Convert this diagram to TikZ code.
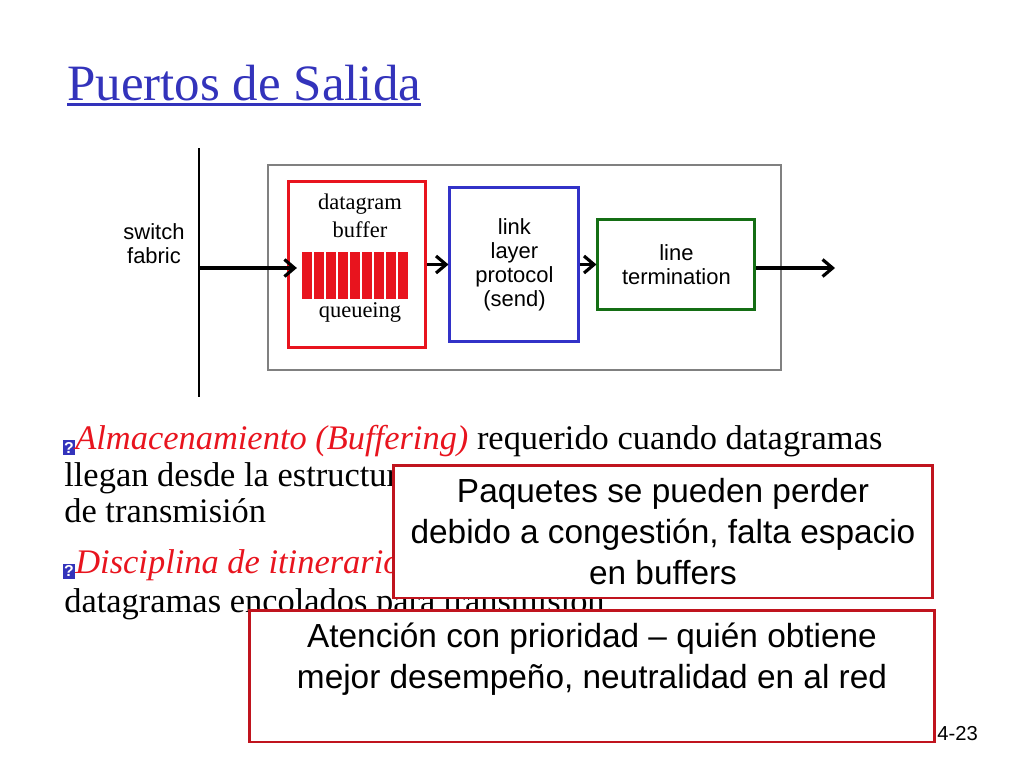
\documentclass[tikz,border=0pt]{standalone}
\usepackage{fontspec}
\setmainfont{Liberation Serif}
\setsansfont{Liberation Sans}
\usepackage{xcolor}
\usetikzlibrary{positioning,arrows.meta}
\definecolor{titleblue}{RGB}{51,51,187}
\definecolor{queuered}{RGB}{232,20,30}
\definecolor{linkblue}{RGB}{50,50,200}
\definecolor{termgreen}{RGB}{20,110,20}
\definecolor{noteborder}{RGB}{192,20,30}
\definecolor{framegray}{RGB}{128,128,128}

\begin{document}
\begin{tikzpicture}[
    x=0.02cm, y=-0.02cm,
    stage/.style={rectangle, draw, line width=1.7pt, align=center, font=\sffamily\fontsize{12.5}{13.6}\selectfont},
    arrow/.style={-{Straight Barb[length=2mm,width=3.4mm]}, line width=1.8pt},
    note/.style={rectangle, draw=noteborder, line width=1.7pt, fill=white, align=center, font=\sffamily\fontsize{19}{23.2}\selectfont},
    body/.style={anchor=base west, inner sep=0pt, font=\fontsize{19.6}{20.7}\selectfont},
    bulletbox/.style={fill=titleblue, text=white, inner sep=0pt, minimum width=0.24cm, minimum height=0.3cm, font=\sffamily\bfseries\fontsize{9}{9}\selectfont}
]
    \useasboundingbox (0,0) rectangle (1024,768);

    % Title
    \node[anchor=base west, inner sep=0pt, text=titleblue, font=\fontsize{29}{34}\selectfont] (title) at (67,100) {Puertos de Salida};
    \draw[titleblue, line width=1.6pt] ([yshift=-2.5pt]title.base west) -- ([yshift=-2.5pt]title.base east);

    % Switch fabric
    \coordinate (ftop) at (199,148);
    \coordinate (fbot) at (199,397);
    \draw[line width=1.7pt] (ftop) -- (fbot);
    \node[font=\sffamily\fontsize{12.5}{13.6}\selectfont, align=center] (fabric) at (154,244) {switch\\fabric};

    % Output port frame
    \node[rectangle, draw=framegray, line width=1.1pt, minimum width=10.26cm, minimum height=4.1cm] (port) at (524.5,267.5) {};

    % Stages
    \node[stage, draw=queuered, minimum width=2.76cm, minimum height=3.34cm] (queue) at (357,264.5) {};
    \node[stage, draw=linkblue, minimum width=2.58cm, minimum height=3.1cm, right=0.42cm of queue] (link) {link\\layer\\protocol\\(send)};
    \node[stage, draw=termgreen, minimum width=3.14cm, minimum height=1.8cm, right=0.32cm of link] (term) {line\\termination};

    % Queue contents
    \node[font=\fontsize{12.8}{15.9}\selectfont, align=center] (qtext) at (360,216) {datagram\\buffer};
    \node[font=\fontsize{12.8}{15.9}\selectfont] (qname) at (360,312) {queueing};
    \node[minimum width=2.16cm, minimum height=0.94cm, inner sep=0pt] (bars) at (356.5,275.5) {};
    \foreach \i in {0,...,8}
        \fill[queuered] ([xshift=\i*0.24cm]bars.north west) rectangle +(0.2cm,-0.94cm);

    % Arrows
    \coordinate (fin) at (199,268);
    \coordinate (out) at (835,265);
    \draw[arrow, shorten >=3pt] (fin) -- (fin -| bars.west);
    \draw[arrow] (queue.east) -- (link.west);
    \draw[arrow] (link.east) -- (term.west);
    \draw[arrow] ([yshift=-2pt]term.east) -- ([yshift=-2pt]term.east -| out);

    % Bullets
    \node[bulletbox] (b1) at (69,447.5) {?};
    \node[body] (l1) at (75,449) {\textcolor{queuered}{\textit{Almacenamiento (Buffering)}} requerido cuando datagramas};
    \node[body] (l2) at (64,486) {llegan desde la estructura};
    \node[body] (l3) at (64,522) {de transmisión};
    \node[bulletbox] (b2) at (69,571) {?};
    \node[body] (l4) at (75,573) {\textcolor{queuered}{\textit{Disciplina de itinerario}}};
    \node[body] (l5) at (64,612) {datagramas encolados para transmisión};

    % Notes
    \node[note, minimum width=10.8cm, minimum height=2.66cm] (loss) at (663,531.5) {Paquetes se pueden perder\\debido a congestión, falta espacio\\en buffers};
    \node[note, minimum width=13.72cm, minimum height=2.64cm] (prio) at (592,676) {Atención con prioridad – quién obtiene\\mejor desempeño, neutralidad en al red\\\mbox{}};

    \node[anchor=base west, inner sep=0pt, font=\sffamily\fontsize{11.5}{13}\selectfont] (page) at (937,740) {4-23};
\end{tikzpicture}
\end{document}
